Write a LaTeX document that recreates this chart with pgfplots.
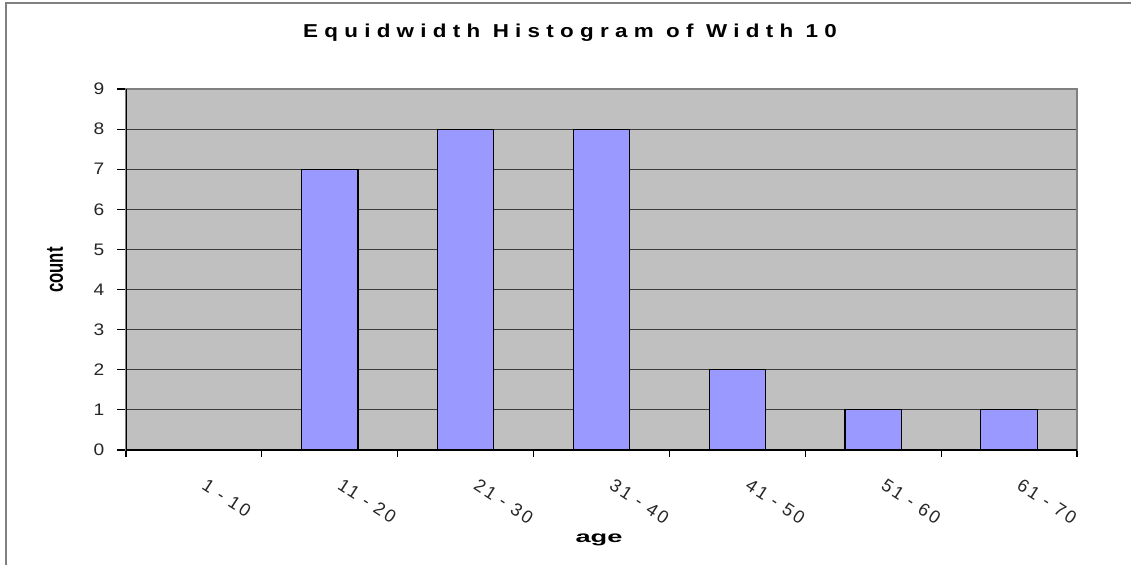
\documentclass[border=0pt]{standalone}
\usepackage{fontspec}
\setmainfont{Liberation Sans}
\newfontfamily\titlefont[LetterSpace=28]{Liberation Sans}
\newfontfamily\xtickfont[LetterSpace=14]{Liberation Sans}
\usepackage{pgfplots}
\pgfplotsset{compat=1.18}
\definecolor{plotbg}{RGB}{192,192,192}
\definecolor{barfill}{RGB}{153,153,255}
\definecolor{framegray}{RGB}{128,128,128}
\definecolor{gridc}{RGB}{60,60,60}
\begin{document}
\begin{tikzpicture}
\useasboundingbox (0,0) rectangle (848.25pt,423.75pt);
\draw[framegray, line width=1.5pt] (4.5pt,0) -- (4.5pt,421.5pt) -- (848.25pt,421.5pt);
\begin{axis}[
  at={(94.5pt,86.25pt)}, anchor=south west,
  scale only axis, width=713.25pt, height=270.75pt,
  xmin=-0.5, xmax=6.5, ymin=0, ymax=9,
  axis background/.style={fill=plotbg},
  axis line style={framegray, line width=0.9pt},
  ytick={0,...,9},
  xtick={0,...,6},
  xticklabels={1 - 10, 11 - 20, 21 - 30, 31 - 40, 41 - 50, 51 - 60, 61 - 70},
  minor xtick={-0.5,0.5,...,6.5},
  major x tick style={draw=none},
  tick align=outside,
  tick pos=left,
  major tick length=6.5pt,
  minor tick length=5pt,
  tick style={black, line width=0.9pt},
  ymajorgrids,
  major grid style={gridc, line width=0.9pt},
  /pgf/number format/assume math mode=true,
  yticklabel style={font=\fontsize{12.5}{14}\selectfont, xscale=1.15, xshift=-5pt, text=black!85},
  xticklabel style={font=\xtickfont\fontsize{13.5}{15}\selectfont, rotate=-33, anchor=north west, xshift=13pt, yshift=-3pt, text=black!85},
]
\addplot[ybar, bar width=0.415, fill=barfill, draw=black, line width=0.9pt]
  coordinates {(0,0) (1,7) (2,8) (3,8) (4,2) (5,1) (6,1)};
\draw[black, line width=1.2pt] (rel axis cs:0,1) -- (rel axis cs:0,0) -- (rel axis cs:1,0);
\end{axis}
\node[xscale=1.2] at (427.5pt,399pt) {\titlefont\bfseries\fontsize{14}{16}\selectfont Equidwidth Histogram of Width 10};
\node[xscale=1.45, rotate=90, font=\bfseries\fontsize{12.5}{14}\selectfont] at (41.25pt,221.25pt) {count};
\node[xscale=1.7, font=\bfseries\fontsize{12}{14}\selectfont] at (449.25pt,18.75pt) {age};
\end{tikzpicture}
\end{document}
